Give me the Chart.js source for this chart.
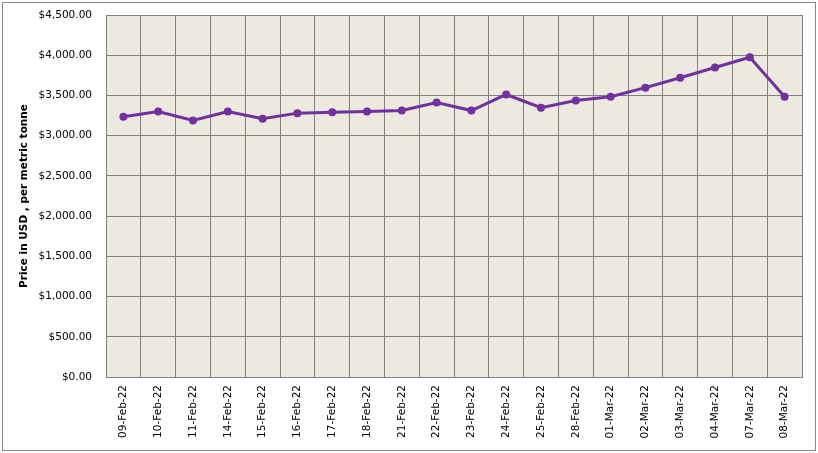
<!DOCTYPE html>
<html>
<head>
<meta charset="utf-8">
<script src="https://cdn.jsdelivr.net/npm/chart.js@4/dist/chart.umd.min.js"></script>
<style>
html,body{margin:0;padding:0;background:#fff;}
#wrap{position:relative;width:818px;height:453px;}
</style>
</head>
<body>
<div id="wrap"><canvas id="c" width="818" height="453"></canvas></div>
<script>
const categories = ["09-Feb-22","10-Feb-22","11-Feb-22","14-Feb-22","15-Feb-22","16-Feb-22","17-Feb-22","18-Feb-22","21-Feb-22","22-Feb-22","23-Feb-22","24-Feb-22","25-Feb-22","28-Feb-22","01-Mar-22","02-Mar-22","03-Mar-22","04-Mar-22","07-Mar-22","08-Mar-22"];
const prices = [3235,3300,3190,3300,3210,3280,3290,3300,3312,3412,3312,3512,3347,3437,3485,3597,3720,3848,3975,3485];
const yTicks = {min:0, max:4500, step:500};
const yTitle = "Price in USD , per metric tonne";

const bgPlugin = {
  id:'bg',
  beforeDraw(chart){
    const {ctx, chartArea:a} = chart;
    ctx.save();
    ctx.fillStyle = '#fff';
    ctx.fillRect(0,0,chart.width,chart.height);
    ctx.strokeStyle = '#8a8a8a';
    ctx.lineWidth = 1;
    ctx.strokeRect(2.5,2.5,chart.width-5,chart.height-5);
    ctx.fillStyle = '#ECE9DF';
    ctx.fillRect(a.left,a.top,a.right-a.left,a.bottom-a.top);
    ctx.restore();
  }
};

const fmt = v => '$' + v.toLocaleString('en-US',{minimumFractionDigits:2,maximumFractionDigits:2});

new Chart(document.getElementById('c'), {
  type:'line',
  data:{
    labels:categories,
    datasets:[{
      data:prices,
      borderColor:'#7030A0',
      backgroundColor:'#7030A0',
      borderWidth:3,
      pointRadius:4,
      pointHoverRadius:4,
      pointBorderWidth:0,
      tension:0
    }]
  },
  options:{
    responsive:false,
    animation:false,
    layout:{padding:{left:14,right:16,top:15,bottom:10}},
    plugins:{legend:{display:false},tooltip:{enabled:false}},
    scales:{
      x:{
        offset:true,
        grid:{offset:true,color:'#808080',lineWidth:1,drawTicks:false},
        border:{color:'#808080'},
        ticks:{
          autoSkip:false,minRotation:90,maxRotation:90,padding:8,
          color:'#000',font:{family:'DejaVu Sans',size:10.5}
        },
        afterFit(s){s.height=66;}
      },
      y:{
        min:yTicks.min,max:yTicks.max,
        grid:{color:'#808080',lineWidth:1,drawTicks:false},
        border:{color:'#808080'},
        ticks:{
          stepSize:yTicks.step,padding:14,color:'#000',
          font:{family:'DejaVu Sans',size:10.5},
          callback:v=>fmt(v)
        },
        title:{display:true,text:yTitle,color:'#000',font:{family:'DejaVu Sans',size:10.5,weight:'bold'},padding:{top:4,bottom:4}},
        afterFit(s){s.width=92;s.paddingTop=0;s.paddingBottom=0;}
      }
    }
  },
  plugins:[bgPlugin]
});
</script>
</body>
</html>
